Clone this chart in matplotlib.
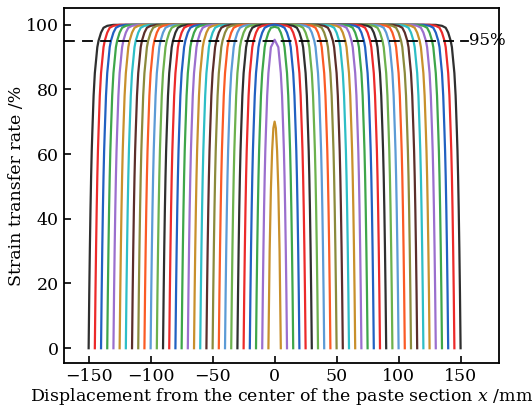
import matplotlib
matplotlib.use("Agg")
import matplotlib.pyplot as plt
import numpy as np

# half lengths of the paste section (mm), outermost first
half_lengths = [150, 145, 140, 135, 130, 125, 120, 115, 110, 105,
                100, 95, 90, 85, 80, 75, 70, 65, 60, 55,
                50, 45, 40, 35, 30, 25, 20, 15, 10]
# rate at the centre of each section (%)
centre_rates = [100] * 27 + [99.3, 95.3]

edge_dist = [0, 0.5, 1, 1.5, 2, 2.5, 3, 4, 5, 6, 7, 8, 10, 12, 15, 20]
edge_rate = [0, 17, 31, 43, 53, 61, 67, 78, 85, 89, 93, 95, 97.5, 99, 99.6, 99.9]

# shortest section (half length 5 mm)
inner_x = [-5, -4, -3, -2, -1, 0, 1, 2, 3, 4, 5]
inner_rate = [0, 30, 49, 61, 68, 70, 68, 61, 49, 30, 0]

colors = ['#2f2f2f', '#ec2a2a', '#2161c2', '#3ea64a', '#9b6fce', '#c8902c',
          '#2dbec6', '#5b2e2a', '#8b8a3c', '#fb5b25', '#5c9bd6', '#6cb14d']

plt.rcParams['font.family'] = ['DejaVu Serif']
plt.rcParams['mathtext.fontset'] = 'dejavuserif'

fig = plt.figure(figsize=(5.32, 4.17), dpi=100)
ax = fig.add_axes([0.120, 0.130, 0.818, 0.850])

for i, (L, peak) in enumerate(zip(half_lengths, centre_rates)):
    d = np.array([v for v in edge_dist if v < L - 2])
    r = np.array(edge_rate[:len(d)])
    xs = np.concatenate([-L + d, [0], (L - d)[::-1]])
    ys = np.concatenate([r, [peak], r[::-1]])
    ax.plot(xs, ys, color=colors[i % len(colors)], lw=1.6)

ax.plot(inner_x, inner_rate, color=colors[len(half_lengths) % len(colors)], lw=1.6)

ax.plot([-170, 150], [95, 95], color='black', ls='--', dashes=(6, 4), lw=1.3)
ax.plot([150, 156], [95, 95], color='black', lw=1.3)
ax.text(156.5, 95, '95%', va='center', ha='left', fontsize=12)

ax.set_xlim(-170, 181)
ax.set_ylim(-4.5, 105)
ax.set_xticks([-150, -100, -50, 0, 50, 100, 150])
ax.set_yticks([0, 20, 40, 60, 80, 100])
ax.set_xticklabels(['\u2212150', '\u2212100', '\u221250', '0', '50', '100', '150'])
ax.tick_params(direction='in', length=5, width=1.2, labelsize=12.5)
for s in ax.spines.values():
    s.set_linewidth(1.3)

ax.set_xlabel('Displacement from the center of the paste section $x$ /mm', fontsize=12.5, labelpad=1)
ax.set_ylabel('Strain transfer rate /%', fontsize=12.5, labelpad=1)

fig.savefig('out.png', dpi=100)
